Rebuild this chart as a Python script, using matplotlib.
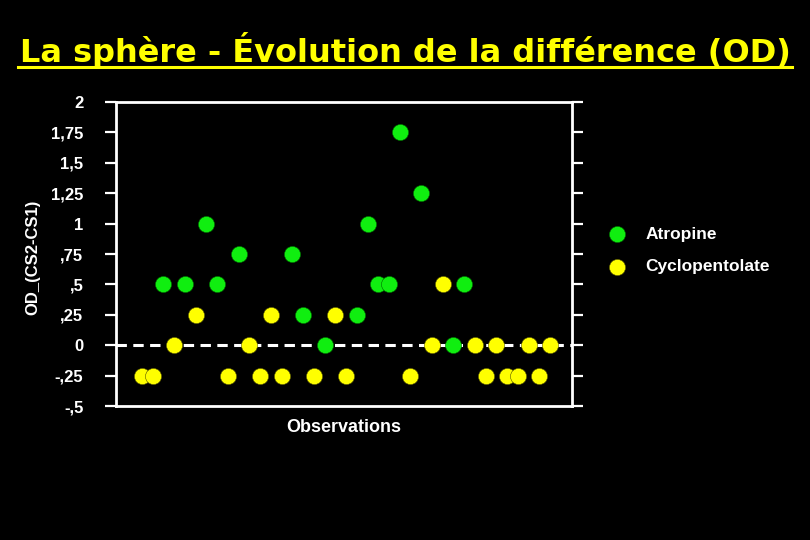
import matplotlib
matplotlib.use("Agg")
import matplotlib.pyplot as plt
from matplotlib.lines import Line2D

# Data: observation index -> (group, OD difference)
groups = ["Y", "Y", "G", "Y", "G", "Y", "G", "G", "Y", "G",
          "Y", "Y", "Y", "Y", "G", "G", "Y", "G", "Y", "Y",
          "G", "G", "G", "G", "G", "Y", "G", "Y", "Y", "G",
          "G", "Y", "Y", "Y", "Y", "Y", "Y", "Y", "Y"]
values = [-0.25, -0.25, 0.5, 0, 0.5, 0.25, 1.0, 0.5, -0.25, 0.75,
          0, -0.25, 0.25, -0.25, 0.75, 0.25, -0.25, 0, 0.25, -0.25,
          0.25, 1.0, 0.5, 0.5, 1.75, -0.25, 1.25, 0, 0.5, 0,
          0.5, 0, -0.25, 0, -0.25, -0.25, 0, -0.25, 0]
yticks = [2, 1.75, 1.5, 1.25, 1, 0.75, 0.5, 0.25, 0, -0.25, -0.5]
ytick_labels = ["2", "1,75", "1,5", "1,25", "1", ",75", ",5", ",25", "0", "-,25", "-,5"]
series_names = {"G": "Atropine", "Y": "Cyclopentolate"}
series_colors = {"G": "#10EE10", "Y": "#FFFF00"}
title = "La sphère - Évolution de la différence (OD)"

fig = plt.figure(figsize=(8.1, 5.4), dpi=100, facecolor="black")
ax = fig.add_axes([0.1432, 0.2481, 0.5630, 0.5630])
ax.set_facecolor("black")

handles = []
for key in ["G", "Y"]:
    xs = [i for i, g in enumerate(groups) if g == key]
    ys = [values[i] for i, g in enumerate(groups) if g == key]
    h = ax.scatter(xs, ys, s=135, color=series_colors[key],
                   edgecolors="#555500" if key == "Y" else "#006600",
                   linewidths=0.4, zorder=3, label=series_names[key])
    handles.append(h)

ax.axhline(0, color="white", lw=2.2, dashes=(3.4, 2.1), zorder=2)

ax.set_xlim(-2.42, 40.04)
ax.set_ylim(-0.5, 2)
ax.set_yticks(yticks)
ax.set_yticklabels(ytick_labels)
ax.set_xticks([])
for sp in ax.spines.values():
    sp.set_color("white")
    sp.set_linewidth(2)
ax.tick_params(axis="y", which="both", direction="out", length=8, width=1.6,
               color="white", labelcolor="white", right=True, labelright=False, pad=15.5)
for lab in ax.get_yticklabels():
    lab.set_fontfamily("Liberation Sans")
    lab.set_fontweight("bold")
    lab.set_fontsize(12)

ax.set_ylabel("OD_(CS2-CS1)", color="white", fontsize=12, fontweight="bold",
              family="Liberation Sans")
ax.yaxis.set_label_coords(-0.165, 0.49)
ax.set_xlabel("Observations", color="white", fontsize=13, fontweight="bold",
              family="Liberation Sans")
ax.xaxis.set_label_coords(0.5, -0.043)

leg = fig.legend(handles=handles, loc="center left", bbox_to_anchor=(0.751, 0.536),
                 frameon=False, labelcolor="white", handlelength=1.0, handletextpad=1.15,
                 labelspacing=1.0, borderpad=0, borderaxespad=0,
                 prop={"family": "Liberation Sans", "weight": "bold", "size": 12.5})

fig.text(0.5, 0.907, title, ha="center", va="center", color="#FFFF00",
         fontsize=23, fontweight="bold", family="DejaVu Sans")
fig.add_artist(Line2D([0.022, 0.978], [0.876, 0.876], transform=fig.transFigure,
                      color="#FFFF00", lw=2.2))

fig.savefig("out.png", dpi=100, facecolor="black")
